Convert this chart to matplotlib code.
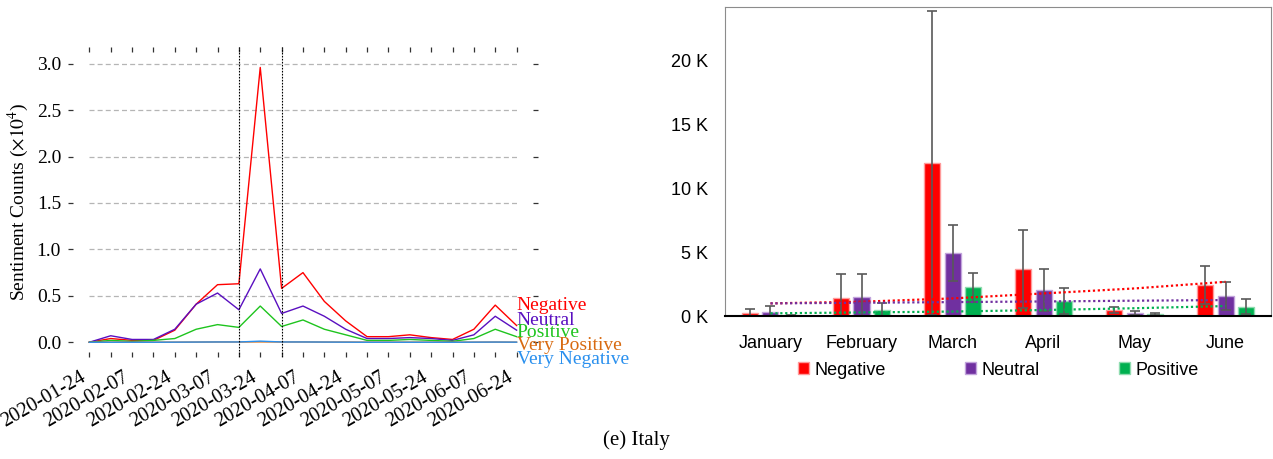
import matplotlib
matplotlib.use('Agg')
import matplotlib.pyplot as plt
import numpy as np

# left panel: weekly sentiment counts (x10^4)
dates = ['2020-01-24', '', '2020-02-07', '', '2020-02-24', '', '2020-03-07', '',
         '2020-03-24', '', '2020-04-07', '', '2020-04-24', '', '2020-05-07', '',
         '2020-05-24', '', '2020-06-07', '', '2020-06-24']
negative = [0.0, 0.04, 0.02, 0.02, 0.13, 0.41, 0.62, 0.63, 2.96, 0.58, 0.75,
            0.44, 0.23, 0.06, 0.06, 0.08, 0.05, 0.03, 0.14, 0.40, 0.18]
neutral = [0.0, 0.07, 0.03, 0.03, 0.14, 0.41, 0.53, 0.35, 0.79, 0.31, 0.39,
           0.28, 0.14, 0.04, 0.04, 0.05, 0.04, 0.02, 0.08, 0.28, 0.13]
positive = [0.0, 0.02, 0.01, 0.02, 0.04, 0.14, 0.19, 0.16, 0.39, 0.17, 0.24,
            0.14, 0.08, 0.02, 0.02, 0.03, 0.02, 0.01, 0.04, 0.14, 0.06]
very_positive = [0.0, 0.001, 0.001, 0.001, 0.001, 0.002, 0.003, 0.003, 0.004, 0.003, 0.003,
                 0.002, 0.002, 0.001, 0.001, 0.001, 0.001, 0.001, 0.001, 0.002, 0.001]
very_negative = [0.0, 0.0, 0.0, 0.0, 0.001, 0.002, 0.003, 0.003, 0.012, 0.003, 0.003,
                 0.002, 0.001, 0.0, 0.0, 0.0, 0.0, 0.0, 0.001, 0.002, 0.001]
lockdown = [7, 9]

# right panel: monthly totals with error bars and trend
months = ['January', 'February', 'March', 'April', 'May', 'June']
neg_month = [200, 1430, 11980, 3670, 470, 2420]
neu_month = [340, 1510, 4950, 2050, 260, 1560]
pos_month = [50, 470, 2240, 1150, 150, 730]
neg_err = [320, 1850, 11870, 3050, 210, 1460]
neu_err = [460, 1770, 2210, 1650, 150, 1100]
pos_err = [50, 570, 1140, 1010, 60, 600]
neg_trend = [990, 1120, 1380, 1770, 2160, 2680]
neu_trend = [990, 1040, 1090, 1140, 1200, 1250]
pos_trend = [210, 280, 350, 470, 610, 780]

fig = plt.figure(figsize=(12.73, 4.59), dpi=100)

# ---------------- left
serif = ['Liberation Serif', 'DejaVu Serif']
plt.rcParams['mathtext.fontset'] = 'stix'
ax = fig.add_axes([0.0534, 0.222, 0.3692, 0.6756])
x = np.arange(len(dates))
series = [(negative, 'Negative', '#ff0000'),
          (neutral, 'Neutral', '#5a0fc0'),
          (positive, 'Positive', '#1ec41e'),
          (very_positive, 'Very Positive', '#d86a10'),
          (very_negative, 'Very Negative', '#2a90ee')]
for vals, name, col in series:
    ax.plot(x, vals, color=col, lw=1.0)

yt = [0.0, 0.5, 1.0, 1.5, 2.0, 2.5, 3.0]
ax.hlines(yt[1:], x[0], x[-1], colors='#b5b5b5', linestyles=(0, (4, 2.5)), lw=0.9, zorder=0)
for v in lockdown:
    ax.axvline(v, color='black', ls=(0, (1.5, 1.2)), lw=0.8)

label_y = [0.40, 0.23, 0.10, -0.03, -0.19]
for (vals, name, col), ly in zip(series, label_y):
    ax.text(x[-1], ly, name, color=col, fontsize=14, family=serif, ha='left', va='center')

ax.set_xlim(-1, 21)
ax.set_ylim(-0.16, 3.18)
ax.set_yticks(yt)
ax.set_yticklabels(['%.1f' % v for v in yt], fontsize=14, family=serif)
ax.set_xticks(x)
ax.set_xticklabels(dates, rotation=30, ha='right', fontsize=14.5, family=serif)
ax.tick_params(axis='both', direction='in', length=3.5, width=0.9, color='#333333',
               top=True, right=True, pad=5)
ax.tick_params(axis='x', pad=8)
for s in ax.spines.values():
    s.set_visible(False)
ax.set_ylabel(r'Sentiment Counts ($\times10^4$)', fontsize=14, family=serif)

# ---------------- right
sans = ['Liberation Sans', 'DejaVu Sans']
ax2 = fig.add_axes([0.5695, 0.3115, 0.429, 0.6732])
g = np.arange(len(months))
w = 0.176
off = 0.223
bars = [(neg_month, neg_err, neg_trend, 'Negative', '#ff0000', '#ff9a9a'),
        (neu_month, neu_err, neu_trend, 'Neutral', '#7030a0', '#c2a4dc'),
        (pos_month, pos_err, pos_trend, 'Positive', '#00b050', '#8fdcb0')]
handles = []
for i, (vals, err, tr, name, col, edge) in enumerate(bars):
    b = ax2.bar(g + (i - 1) * off, vals, w, color=col, edgecolor=edge, lw=1.0, label=name,
                yerr=err, error_kw=dict(ecolor='#595959', elinewidth=1.2, capsize=3.5,
                                        capthick=1.2))
    handles.append(b)
for vals, err, tr, name, col, edge in bars:
    ax2.plot(g, tr, color=col, ls=(0, (1, 1.2)), lw=1.6, zorder=3)

ax2.set_xlim(-0.5, 5.5)
ax2.set_ylim(0, 24200)
ax2.set_yticks([0, 5000, 10000, 15000, 20000])
ax2.set_yticklabels(['0 K', '5 K', '10 K', '15 K', '20 K'], fontsize=13, family=sans)
ax2.set_xticks(g)
ax2.set_xticklabels(months, fontsize=13, family=sans)
ax2.tick_params(axis='y', length=0, pad=12)
ax2.tick_params(axis='x', length=0, pad=14)
for k in ['top', 'right', 'left']:
    ax2.spines[k].set_color('#8c8c8c')
ax2.spines['bottom'].set_color('black')
ax2.spines['bottom'].set_linewidth(1.5)
leg = ax2.legend(handles=handles, loc='center', bbox_to_anchor=(0.5, -0.175), ncol=3,
                 frameon=False, prop={'family': sans, 'size': 13}, handlelength=0.6,
                 handleheight=0.6, handletextpad=0.3, columnspacing=4.4)

fig.text(0.5, 0.041, '(e) Italy', ha='center', va='center', fontsize=15, family=serif)

fig.savefig('out.png', dpi=100)
